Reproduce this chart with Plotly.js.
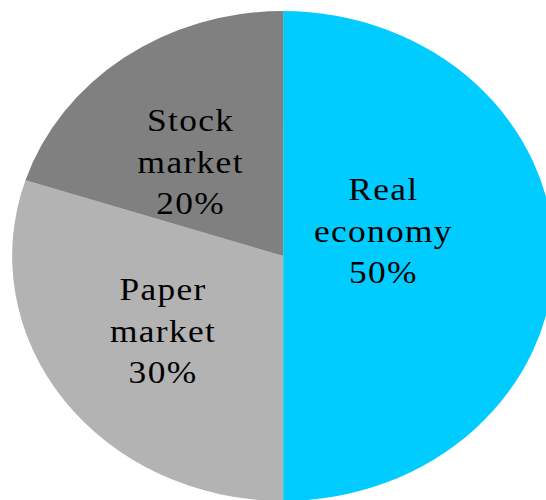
<!DOCTYPE html>
<html>
<head>
<meta charset="utf-8">
<script src="https://cdn.plot.ly/plotly-3.0.1.min.js"></script>
<style>
html,body{margin:0;padding:0;overflow:hidden;width:546px;height:500px;background:#fff;font-family:'Liberation Serif',serif;}
#chart{width:520px;height:520px;transform:scaleX(1.106);transform-origin:0 0;}
#chart .annotation-text{letter-spacing:1.2px !important;}
</style>
</head>
<body>
<div id="chart"></div>
<script>
const categories = ["Real<br>economy", "Paper<br>market", "Stock<br>market"];
const shares = [50, 30, 20];
const colors = ["#00CCFF", "#B3B3B3", "#808080"];

const total = shares.reduce((a, b) => a + b, 0);

const trace = {
  type: "pie",
  labels: categories,
  values: shares,
  sort: false,
  direction: "clockwise",
  rotation: 0,
  marker: {colors: colors, line: {width: 0}},
  textinfo: "none",
  hoverinfo: "none",
  domain: {x: [11/520, 501/520], y: [1 - 501/520, 1 - 11/520]}
};

const labelPos = [[0.667, 0.556], [0.2844, 0.364], [0.331, 0.689]];

const annotations = categories.map((c, i) => ({
  xref: "paper", yref: "paper",
  x: labelPos[i][0], y: labelPos[i][1],
  xanchor: "center", yanchor: "middle",
  showarrow: false,
  text: c + "<br>" + Math.round(shares[i] / total * 100) + "%",
  font: {family: "Times New Roman", size: 32, color: "black"}
}));

const layout = {
  width: 520, height: 520,
  margin: {l: 0, r: 0, t: 0, b: 0},
  showlegend: false,
  paper_bgcolor: "#fff",
  font: {family: "Liberation Serif", size: 32, color: "black"},
  annotations: annotations
};

Plotly.newPlot("chart", [trace], layout, {staticPlot: true, displayModeBar: false});
</script>
</body>
</html>
